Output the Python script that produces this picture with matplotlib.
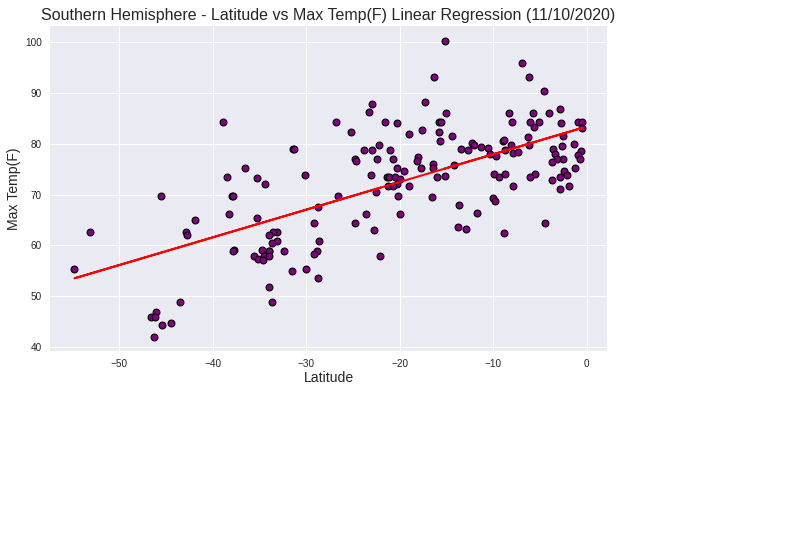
import matplotlib
matplotlib.use("Agg")
import matplotlib.pyplot as plt
import numpy as np

plt.rcParams['font.family'] = ['Liberation Sans', 'DejaVu Sans']

latitude = [
 -15.16,-6.94,-6.19,-16.33,-4.59,-17.3,-22.95,-23.27,-15.05,-8.33,-5.77,-4.06,-2.88,-26.8,-21.57,-20.28,
 -15.8,-15.59,-8.0,-6.09,-5.12,-2.74,-0.96,-0.53,-0.53,-5.66,-25.2,-17.6,-15.8,-19.0,-15.7,-14.4,-2.56,-6.3,
 -22.2,-23.8,-22.95,-21.1,-13.45,-12.7,-12.28,-12.06,-11.3,-10.57,-10.36,-9.7,-8.97,-8.86,-8.1,-8.75,-7.9,-7.37,
 -6.19,-3.63,-2.67,-1.39,-0.64,-3.42,-0.96,-0.75,-2.56,-3.2,-3.74,-24.77,-24.66,-22.42,-20.7,-18.04,-18.15,
 -20.28,-19.54,-17.7,-16.44,-16.44,-14.2,-1.28,-2.46,-23.06,-2.14,-9.93,-9.4,-8.75,-5.55,-6.09,-2.88,
 -21.35,-21.14,-20.5,-19.96,-16.0,-15.16,-3.74,-20.28,-21.25,-20.7,-19.0,-7.9,-2.88,-1.92,
 -38.95,-38.5,-36.6,-35.3,-34.4,-31.4,-31.3,-30.2,
 -54.8,-53.1,-45.56,-38.0,-37.9,-38.3,-41.9,-42.9,-42.8,-35.3,-28.8,-29.15,-28.7,-28.9,-29.15,-28.8,-30.0,-31.5,
 -32.35,-33.1,-33.6,-33.95,-33.1,-33.7,-34.8,-33.95,-34.05,-34.5,-34.05,-35.65,-35.2,-34.6,-37.7,-37.9,-33.95,-33.7,
 -43.5,-46.1,-46.6,-46.2,-45.45,-44.5,-46.3,
 -26.6,-22.6,-20.2,-16.55,-10.04,-9.82,-13.67,-23.6,-20.0,-11.74,-24.77,-22.74,-13.77,-12.9,-8.86,-4.48,-22.1,
]
max_temp = [
 100.2,95.9,93.1,93.1,90.4,88.2,87.8,86.3,86.1,86.1,86.1,86.1,86.9,84.3,84.3,84.1,
 84.3,84.3,84.3,84.3,84.3,84.1,84.3,84.3,83.1,83.3,82.4,82.7,82.4,82.0,80.6,81.6,81.6,81.4,
 79.8,78.8,78.8,78.8,79.0,78.8,80.2,79.8,79.4,79.2,78.0,77.6,80.6,80.8,79.8,78.8,78.2,78.4,
 79.8,79.0,79.6,80.0,78.6,78.0,77.8,77.1,77.1,77.1,76.5,77.1,76.7,77.1,77.1,77.3,76.7,
 75.3,74.7,75.3,76.1,75.3,75.9,75.3,74.7,73.9,73.9,74.1,73.5,74.1,74.1,73.5,73.5,
 73.5,73.5,73.5,73.1,73.5,73.7,72.9,72.1,71.6,71.6,71.6,71.6,71.2,71.6,
 84.3,73.5,75.3,73.3,72.1,79.0,79.0,73.9,
 55.4,62.7,69.8,69.8,69.8,66.25,65.1,62.7,62.1,65.3,67.6,64.5,60.9,58.9,58.4,53.6,55.4,55.0,
 58.95,62.7,62.7,62.1,60.9,60.5,59.1,58.95,58.95,58.0,58.0,58.0,57.4,57.2,59.1,58.9,51.8,48.8,
 48.8,46.9,45.9,45.9,44.3,44.7,42.0,
 69.8,70.5,69.8,69.6,69.4,68.8,68.0,66.25,66.25,66.45,64.5,63.1,63.7,63.3,62.5,64.5,58.0,
]
fit_slope = 0.545
fit_intercept = 83.4
x_ticks = [-50, -40, -30, -20, -10, 0]
y_ticks = [40, 50, 60, 70, 80, 90, 100]

lat = np.array(latitude)
temp = np.array(max_temp)

fig = plt.figure(figsize=(804/72, 560/72), dpi=72, facecolor='white')
ax = fig.add_axes([50/804, 1-351/560, (607-50)/804, (351-26)/560], facecolor='#EAEAF2')
ax.grid(True, color='white', linewidth=1)
ax.set_axisbelow(True)
for s in ax.spines.values():
    s.set_visible(False)
ax.scatter(lat, temp, s=47, c='purple', edgecolors='black', linewidths=1.1, zorder=3)
ax.plot(lat, fit_slope*lat + fit_intercept, color='red', linewidth=2, zorder=4)
ax.set_xlim(-57.42, 2.15)
ax.set_ylim(39.23, 103.17)
ax.set_xticks(x_ticks)
ax.set_yticks(y_ticks)
ax.tick_params(length=0, labelsize=10, labelcolor='#262626', pad=8)
ax.set_xlabel('Latitude', fontsize=14, color='#262626', labelpad=2)
ax.set_ylabel('Max Temp(F)', fontsize=14, color='#262626', labelpad=4)
ax.set_title('Southern Hemisphere - Latitude vs Max Temp(F) Linear Regression (11/10/2020)',
             fontsize=16, color='#262626', pad=6)
fig.savefig('out.png', dpi=72)
